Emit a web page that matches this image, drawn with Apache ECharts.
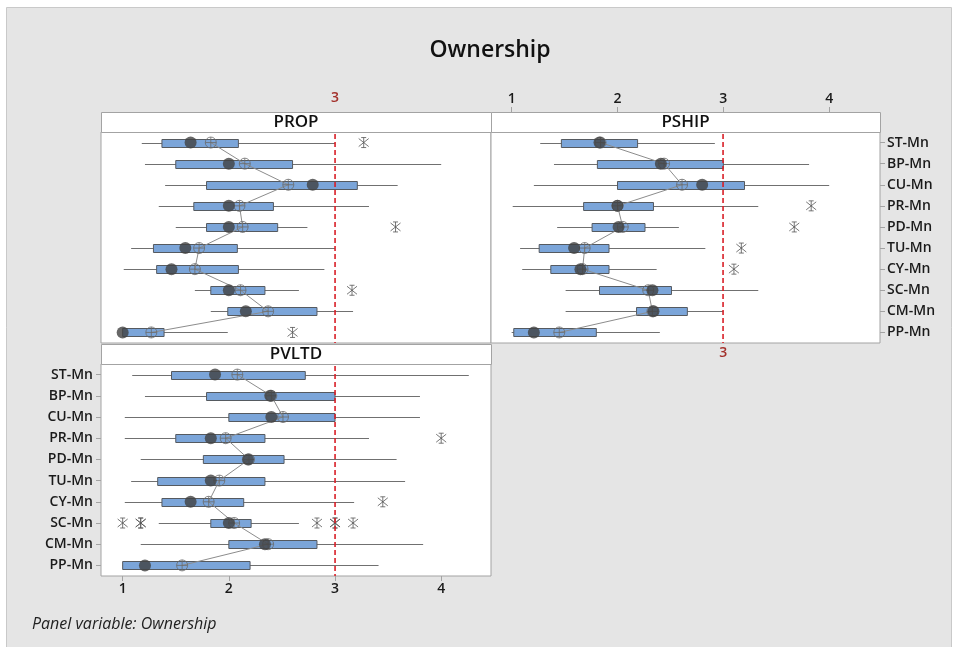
<!DOCTYPE html>
<html>
<head>
<meta charset="utf-8">
<script src="https://cdn.jsdelivr.net/npm/echarts@6/dist/echarts.min.js"></script>
<style>
  html, body { margin: 0; padding: 0; background: #ffffff; }
  #chart { width: 960px; height: 647px; }
</style>
</head>
<body>
<div id="chart"></div>
<script>
// Item labels (shared by all three panels)
const categories = ['ST-Mn', 'BP-Mn', 'CU-Mn', 'PR-Mn', 'PD-Mn', 'TU-Mn', 'CY-Mn', 'SC-Mn', 'CM-Mn', 'PP-Mn'];
const xTicks = [1, 2, 3, 4];
const refValue = 3;

// PROP panel
const propLow    = [1.18, 1.21, 1.40, 1.34, 1.50, 1.08, 1.01, 1.68, 1.83, 1.00];
const propQ1     = [1.37, 1.50, 1.79, 1.67, 1.79, 1.29, 1.32, 1.83, 1.99, 1.00];
const propMedian = [1.64, 2.00, 2.79, 2.00, 2.00, 1.59, 1.46, 2.00, 2.16, 1.00];
const propQ3     = [2.09, 2.60, 3.21, 2.42, 2.46, 2.08, 2.09, 2.34, 2.83, 1.39];
const propHigh   = [3.00, 4.00, 3.59, 3.32, 2.74, 3.00, 2.90, 2.66, 3.17, 1.99];
const propMean   = [1.83, 2.15, 2.56, 2.10, 2.13, 1.72, 1.68, 2.11, 2.37, 1.27];
const propOutliers = [[0, 3.27], [4, 3.57], [7, 3.16], [9, 2.60]];

// PSHIP panel
const pshipLow    = [1.27, 1.40, 1.21, 1.01, 1.43, 1.08, 1.10, 1.51, 1.51, 1.00];
const pshipQ1     = [1.47, 1.81, 2.00, 1.68, 1.76, 1.26, 1.37, 1.83, 2.18, 1.02];
const pshipMedian = [1.83, 2.41, 2.80, 2.00, 2.01, 1.59, 1.65, 2.33, 2.34, 1.21];
const pshipQ3     = [2.19, 3.00, 3.20, 2.34, 2.26, 1.92, 1.92, 2.51, 2.66, 1.80];
const pshipHigh   = [2.92, 3.81, 4.00, 3.33, 2.58, 2.83, 2.37, 3.33, 3.00, 2.40];
const pshipMean   = [1.84, 2.44, 2.61, 2.00, 2.05, 1.69, 1.67, 2.29, 2.33, 1.45];
const pshipOutliers = [[3, 3.83], [4, 3.67], [5, 3.17], [6, 3.10]];

// PVLTD panel
const pvltdLow    = [1.09, 1.21, 1.02, 1.02, 1.17, 1.08, 1.02, 1.34, 1.17, 1.00];
const pvltdQ1     = [1.46, 1.79, 2.00, 1.50, 1.76, 1.33, 1.37, 1.83, 2.00, 1.00];
const pvltdMedian = [1.87, 2.39, 2.40, 1.83, 2.18, 1.83, 1.64, 2.00, 2.34, 1.21];
const pvltdQ3     = [2.72, 3.00, 3.00, 2.34, 2.52, 2.34, 2.14, 2.21, 2.83, 2.20];
const pvltdHigh   = [4.26, 3.80, 3.80, 3.32, 3.58, 3.66, 3.18, 2.66, 3.83, 3.41];
const pvltdMean   = [2.08, 2.40, 2.51, 1.97, 2.19, 1.91, 1.81, 2.05, 2.37, 1.56];
const pvltdOutliers = [[3, 4.00], [6, 3.45], [7, 1.00], [7, 1.17], [7, 1.17], [7, 2.83], [7, 3.00], [7, 3.00], [7, 3.17]];

const FONT = 'Open Sans';
const BOX_FILL = '#7ba5d9';
const BOX_EDGE = '#555a60';
const WHISKER = '#707070';
const REF_RED = '#d81e26';
const LABEL_RED = '#a3312c';
const FRAME = '#a3a3a3';

const MEAN_SYMBOL = 'path://M0,5A5,5 0 1,1 10,5A5,5 0 1,1 0,5ZM5,0L5,10M0,5L10,5';
const STAR_SYMBOL = 'path://M1,1L9,9M9,1L1,9M5,0L5,10M3,0L7,0M3,10L7,10';

// whisker line plus interquartile box for one item
function boxRender(params, api) {
  const cat = api.value(0);
  const lo = api.coord([api.value(1), cat]);
  const q1 = api.coord([api.value(2), cat]);
  const q3 = api.coord([api.value(3), cat]);
  const hi = api.coord([api.value(4), cat]);
  const h = 8;
  const y = Math.round(lo[1]) + 0.5;
  return {
    type: 'group',
    children: [
      { type: 'line', shape: { x1: lo[0], y1: y, x2: hi[0], y2: y },
        style: { stroke: WHISKER, lineWidth: 1 } },
      { type: 'rect', shape: { x: q1[0], y: y - h / 2, width: Math.max(q3[0] - q1[0], 1), height: h },
        style: { fill: BOX_FILL, stroke: BOX_EDGE, lineWidth: 1 } }
    ]
  };
}

// vertical dashed reference line spanning the whole plot area, built from short dashes
function refRender(params, api) {
  const x = Math.round(api.coord([api.value(0), 0])[0]);
  const cs = params.coordSys;
  const dashes = [];
  for (let y = cs.y + 2; y < cs.y + cs.height; y += 8) {
    dashes.push({
      type: 'rect',
      shape: { x: x - 0.75, y: y, width: 1.6, height: Math.min(5, cs.y + cs.height - y) },
      style: { fill: REF_RED }
    });
  }
  return { type: 'group', children: dashes };
}

function panelSeries(xi, yi, low, q1, median, q3, high, mean, outliers) {
  const boxData = categories.map((c, i) => [i, low[i], q1[i], q3[i], high[i]]);
  return [
    {
      type: 'custom', xAxisIndex: xi, yAxisIndex: yi, z: 6, silent: true,
      renderItem: refRender,
      encode: { x: 0, y: 1 },
      data: [[refValue, 0]]
    },
    {
      type: 'custom', xAxisIndex: xi, yAxisIndex: yi, z: 2,
      renderItem: boxRender,
      encode: { x: [1, 2, 3, 4], y: 0 },
      data: boxData
    },
    {
      type: 'line', xAxisIndex: xi, yAxisIndex: yi, z: 3,
      symbol: 'none', silent: true,
      color: '#8c8c8c',
      lineStyle: { color: '#8c8c8c', width: 1 },
      data: mean.map((m, i) => [m, i])
    },
    {
      type: 'scatter', xAxisIndex: xi, yAxisIndex: yi, z: 4,
      symbol: MEAN_SYMBOL, symbolSize: 11, symbolKeepAspect: true,
      itemStyle: { color: 'rgba(0,0,0,0)', borderColor: '#6a6a6a', borderWidth: 1 },
      data: mean.map((m, i) => [m, i])
    },
    {
      type: 'scatter', xAxisIndex: xi, yAxisIndex: yi, z: 5,
      symbol: 'circle', symbolSize: 12,
      itemStyle: { color: '#414141' },
      data: median.map((m, i) => [m, i])
    },
    {
      type: 'scatter', xAxisIndex: xi, yAxisIndex: yi, z: 5,
      symbol: STAR_SYMBOL, symbolSize: 10,
      itemStyle: { color: 'rgba(0,0,0,0)', borderColor: '#555555', borderWidth: 1 },
      data: outliers.map(o => [o[1], o[0]])
    }
  ];
}

const catAxisBase = {
  type: 'category', data: categories, inverse: true,
  axisLine: { show: false }, splitLine: { show: false }
};

const panels = [
  { name: 'PROP',  left: 101, top: 132, width: 390, height: 211 },
  { name: 'PSHIP', left: 491, top: 132, width: 389, height: 211 },
  { name: 'PVLTD', left: 101, top: 364, width: 390, height: 212 }
];
const headerH = 20;

const chart = echarts.init(document.getElementById('chart'), null, { renderer: 'canvas' });

const tickLabel = { color: '#1a1a1a', fontSize: 14, fontWeight: 600, fontFamily: FONT };

const option = {
  animation: false,
  backgroundColor: '#ffffff',
  textStyle: { fontFamily: FONT },
  grid: panels.map(p => ({
    left: p.left, top: p.top, width: p.width, height: p.height,
    show: true, backgroundColor: '#ffffff', borderColor: FRAME, borderWidth: 1,
    containLabel: false
  })),
  xAxis: [
    // PROP: reference value marked above the header
    { gridIndex: 0, type: 'value', min: 0.796, max: 4.469, position: 'top', offset: headerH,
      axisLine: { show: false }, axisTick: { show: false }, splitLine: { show: false },
      axisLabel: { customValues: [refValue], color: LABEL_RED, fontSize: 14, fontWeight: 600, margin: 7, fontFamily: FONT } },
    // PSHIP: scale above the header
    { gridIndex: 1, type: 'value', min: 0.805, max: 4.48, position: 'top', offset: headerH,
      axisLine: { show: false }, splitLine: { show: false },
      axisTick: { show: true, customValues: xTicks, length: 5, lineStyle: { color: FRAME } },
      axisLabel: Object.assign({ customValues: xTicks, margin: 6 }, tickLabel) },
    // PSHIP: reference value below the panel
    { gridIndex: 1, type: 'value', min: 0.805, max: 4.48, position: 'bottom',
      axisLine: { show: false }, axisTick: { show: false }, splitLine: { show: false },
      axisLabel: { customValues: [refValue], color: LABEL_RED, fontSize: 14, fontWeight: 600, margin: 3, fontFamily: FONT } },
    // PVLTD: scale below the panel
    { gridIndex: 2, type: 'value', min: 0.796, max: 4.469, position: 'bottom',
      axisLine: { show: false }, splitLine: { show: false },
      axisTick: { show: true, customValues: xTicks, length: 5, lineStyle: { color: FRAME } },
      axisLabel: Object.assign({ customValues: xTicks, margin: 6 }, tickLabel) }
  ],
  yAxis: [
    Object.assign({}, catAxisBase, { gridIndex: 0, axisTick: { show: false }, axisLabel: { show: false } }),
    Object.assign({}, catAxisBase, { gridIndex: 1, position: 'right',
      axisTick: { show: true, alignWithLabel: true, length: 5, lineStyle: { color: FRAME } },
      axisLabel: Object.assign({ margin: 7 }, tickLabel) }),
    Object.assign({}, catAxisBase, { gridIndex: 2, position: 'left',
      axisTick: { show: true, alignWithLabel: true, length: 5, lineStyle: { color: FRAME } },
      axisLabel: Object.assign({ margin: 8 }, tickLabel) })
  ],
  series: [].concat(
    panelSeries(0, 0, propLow, propQ1, propMedian, propQ3, propHigh, propMean, propOutliers),
    panelSeries(1, 1, pshipLow, pshipQ1, pshipMedian, pshipQ3, pshipHigh, pshipMean, pshipOutliers),
    panelSeries(3, 2, pvltdLow, pvltdQ1, pvltdMedian, pvltdQ3, pvltdHigh, pvltdMean, pvltdOutliers)
  ),
  graphic: {
    elements: [
      // figure background
      { type: 'rect', z: -100, silent: true,
        shape: { x: 6.5, y: 7.5, width: 945, height: 645 },
        style: { fill: '#e5e5e5', stroke: '#c9c9c9', lineWidth: 1 } },
      { type: 'text', x: 490, y: 50, silent: true,
        style: { text: 'Ownership', font: '600 23px "' + FONT + '"', fill: '#111111',
                 textAlign: 'center', textVerticalAlign: 'middle' } },
      { type: 'text', left: 32, top: 616, silent: true,
        style: { text: 'Panel variable: Ownership', font: 'italic 16px "' + FONT + '"', fill: '#222222' } }
    ].concat(panels.map(p => ({
      type: 'group', silent: true, z: 50,
      children: [
        { type: 'rect', shape: { x: p.left + 0.5, y: p.top - headerH + 0.5, width: p.width, height: headerH },
          style: { fill: '#ffffff', stroke: FRAME, lineWidth: 1 } },
        { type: 'text', x: p.left + p.width / 2, y: p.top - headerH / 2 + 0.5,
          style: { text: p.name, font: '600 17px "' + FONT + '"', fill: '#111111',
                   textAlign: 'center', textVerticalAlign: 'middle' } }
      ]
    })))
  }
};

chart.setOption(option);
</script>
</body>
</html>
